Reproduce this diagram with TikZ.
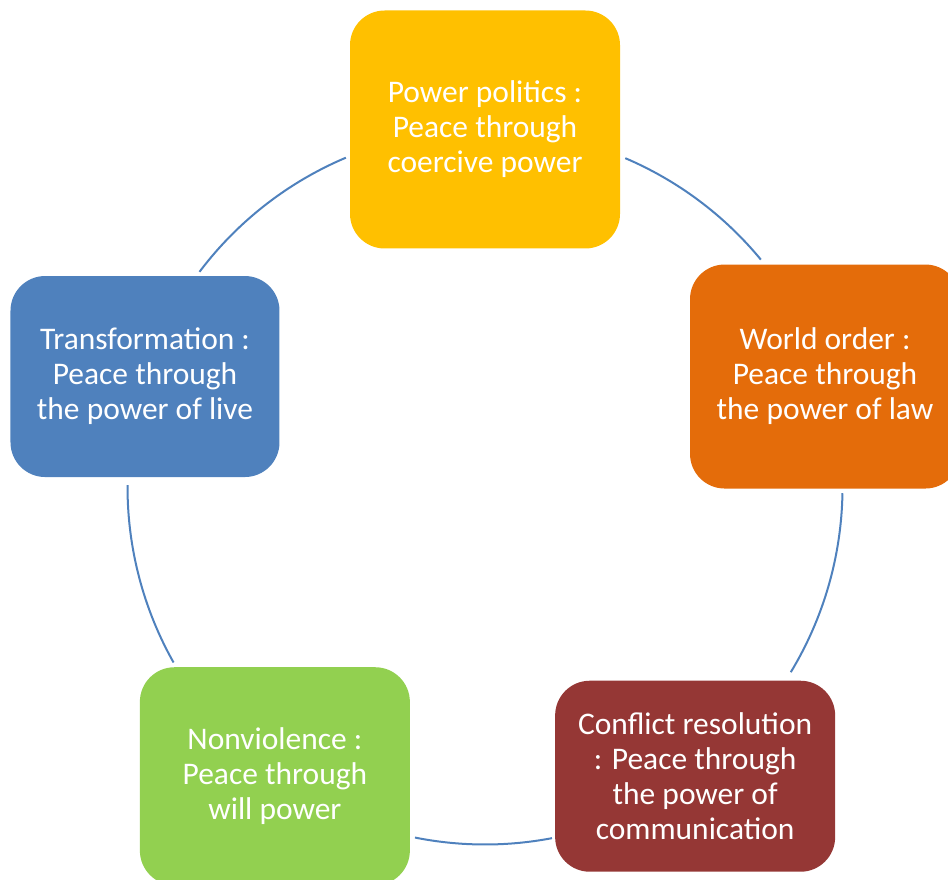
\documentclass[tikz,border=0pt]{standalone}
\usepackage{fontspec}
\setmainfont{Carlito}
\definecolor{gold}{HTML}{FFC000}
\definecolor{amber}{HTML}{E46C0A}
\definecolor{brick}{HTML}{953735}
\definecolor{leaf}{HTML}{92D050}
\definecolor{steel}{HTML}{4F81BD}
\tikzset{
  petal/.style={rectangle, rounded corners=26pt, inner sep=0pt, text=white, align=center,
    font=\fontsize{23.6pt}{26.3pt}\selectfont},
  ring/.style={draw=steel, line width=1.5pt}
}
\begin{document}
\begin{tikzpicture}[x=0.75pt, y=0.75pt]
	\useasboundingbox (0,0) rectangle (948,879);
	\def\R{357.5}
	\coordinate (hub) at (485,392);
	%Connecting arcs
	\foreach \sa/\ea in {143/112.9, 66.9/39.5, -1/-31.2, -79.2/-101.3, 209.4/179.7}
	{\draw[ring] (hub) ++(\sa:\R) arc[start angle=\sa, end angle=\ea, radius=\R];}
	%Boxes
	\node[petal, fill=gold, minimum width=202.5pt, minimum height=178.5pt] (power) at ([shift={(90:\R)}]hub)
		{Power politics :\\Peace through\\coercive power};
	\node[petal, fill=amber, minimum width=202.5pt, minimum height=168pt] (order) at ([shift={(18:\R)}]hub)
		{World order :\\Peace through\\the power of law};
	\node[petal, fill=brick, minimum width=210pt, minimum height=143.25pt] (conflict) at ([shift={(-54:\R)}]hub)
		{Conflict resolution\\: Peace through\\the power of\\communication};
	\node[petal, fill=leaf, minimum width=202.5pt, minimum height=163.5pt] (nonviolence) at ([shift={(-126:\R)}]hub)
		{Nonviolence :\\Peace through\\will power};
	\node[petal, fill=steel, minimum width=201.75pt, minimum height=150.75pt] (transform) at ([shift={(162:\R)}]hub)
		{Transformation :\\Peace through\\the power of live};
\end{tikzpicture}
\end{document}
